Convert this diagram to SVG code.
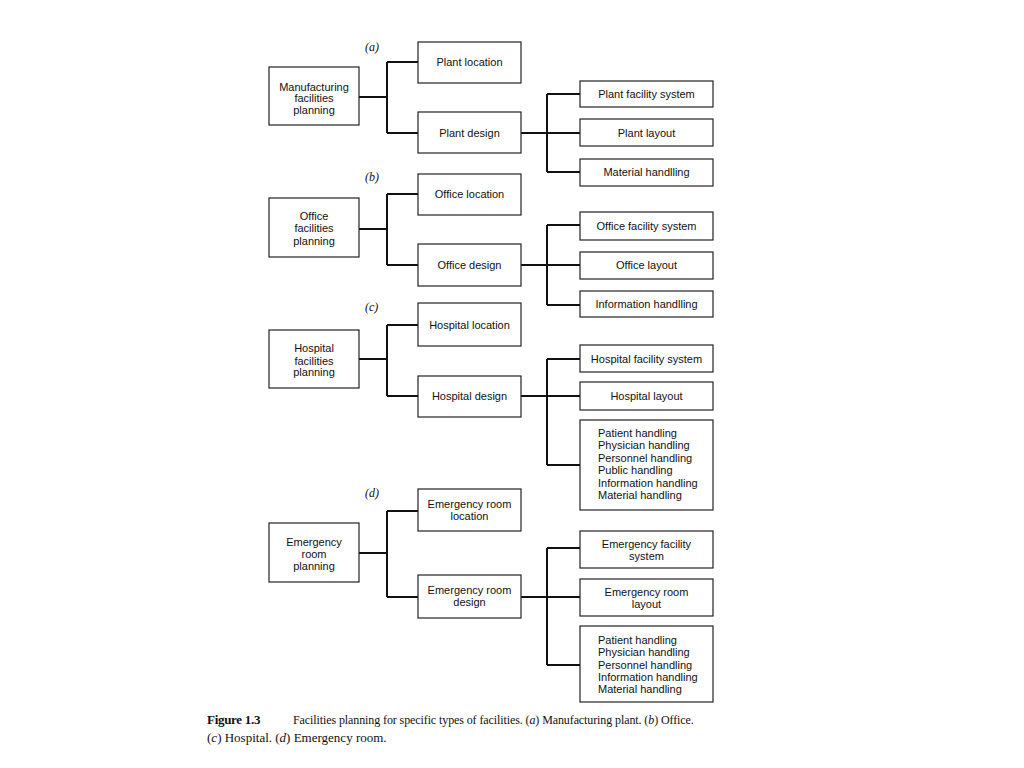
<svg xmlns="http://www.w3.org/2000/svg" width="1024" height="768" viewBox="0 0 1024 768">
<style>
.box{fill:#fff;stroke:#222;stroke-width:1.2}
.t{font-family:"Liberation Sans",Arial,sans-serif;font-size:11px;fill:#111;text-anchor:middle}
.tl{font-family:"Liberation Sans",Arial,sans-serif;font-size:11px;fill:#111;text-anchor:start}
.lab{font-family:"Liberation Serif","Times New Roman",serif;font-size:12px;font-style:italic;fill:#111}
.cap{font-family:"Liberation Serif","Times New Roman",serif;font-size:13px;fill:#111}
.cap1{font-family:"Liberation Serif","Times New Roman",serif;font-size:12px;letter-spacing:-0.1px;fill:#111}
.con{fill:none;stroke:#111;stroke-width:2}
</style>
<rect width="1024" height="768" fill="#fff"/>
<g id="connectors">
<path class="con" d="M359 97H387M387 62V133M387 62H418M387 133H418M521 133H580M547 94V172M547 94H580M547 172H580"/>
<path class="con" d="M359 229H387M387 194V265M387 194H418M387 265H418M521 265H580M547 225V305M547 225H580M547 305H580"/>
<path class="con" d="M359 359H387M387 325V396M387 325H418M387 396H418M521 396H580M547 359V465M547 359H580M547 465H580"/>
<path class="con" d="M359 553H387M387 511V597M387 511H418M387 597H418M521 597H580M547 548V665M547 548H580M547 665H580"/>
</g>
<text class="lab" x="365" y="51">(a)</text>
<text class="lab" x="365" y="181">(b)</text>
<text class="lab" x="365" y="311">(c)</text>
<text class="lab" x="365" y="497">(d)</text>
<g id="a-root"><rect class="box" x="269" y="67" width="90" height="58"/><text class="t" x="314" y="90.5">Manufacturing</text><text class="t" x="314" y="102">facilities</text><text class="t" x="314" y="113.5">planning</text></g>
<g id="a-loc"><rect class="box" x="418" y="42" width="103" height="41"/><text class="t" x="469.5" y="66">Plant location</text></g>
<g id="a-design"><rect class="box" x="418" y="112" width="103" height="41"/><text class="t" x="469.5" y="136.5">Plant design</text></g>
<g id="a-fs"><rect class="box" x="580" y="81" width="133" height="26"/><text class="t" x="646.5" y="97.5">Plant facility system</text></g>
<g id="a-layout"><rect class="box" x="580" y="119" width="133" height="27"/><text class="t" x="646.5" y="136.5">Plant layout</text></g>
<g id="a-mh"><rect class="box" x="580" y="159" width="133" height="27"/><text class="t" x="646.5" y="176">Material handlling</text></g>

<g id="b-root"><rect class="box" x="269" y="198" width="90" height="59"/><text class="t" x="314" y="219.5">Office</text><text class="t" x="314" y="232">facilities</text><text class="t" x="314" y="244.5">planning</text></g>
<g id="b-loc"><rect class="box" x="418" y="174" width="103" height="41"/><text class="t" x="469.5" y="198">Office location</text></g>
<g id="b-design"><rect class="box" x="418" y="244" width="103" height="42"/><text class="t" x="469.5" y="269">Office design</text></g>
<g id="b-fs"><rect class="box" x="580" y="212" width="133" height="28"/><text class="t" x="646.5" y="229.5">Office facility system</text></g>
<g id="b-layout"><rect class="box" x="580" y="252" width="133" height="27"/><text class="t" x="646.5" y="269">Office layout</text></g>
<g id="b-ih"><rect class="box" x="580" y="291" width="133" height="26"/><text class="t" x="646.5" y="308">Information handlling</text></g>

<g id="c-root"><rect class="box" x="269" y="330" width="90" height="58"/><text class="t" x="314" y="352">Hospital</text><text class="t" x="314" y="364.5">facilities</text><text class="t" x="314" y="376">planning</text></g>
<g id="c-loc"><rect class="box" x="418" y="303" width="103" height="43"/><text class="t" x="469.5" y="328.5">Hospital location</text></g>
<g id="c-design"><rect class="box" x="418" y="376" width="103" height="41"/><text class="t" x="469.5" y="400">Hospital design</text></g>
<g id="c-fs"><rect class="box" x="580" y="345" width="133" height="27"/><text class="t" x="646.5" y="362.5">Hospital facility system</text></g>
<g id="c-layout"><rect class="box" x="580" y="382" width="133" height="28"/><text class="t" x="646.5" y="400">Hospital layout</text></g>
<g id="c-h"><rect class="box" x="580" y="420" width="133" height="90"/><text class="tl" x="598" y="437">Patient handling</text><text class="tl" x="598" y="449.4">Physician handling</text><text class="tl" x="598" y="461.8">Personnel handling</text><text class="tl" x="598" y="474.2">Public handling</text><text class="tl" x="598" y="486.6">Information handling</text><text class="tl" x="598" y="499">Material handling</text></g>

<g id="d-root"><rect class="box" x="269" y="523" width="90" height="59"/><text class="t" x="314" y="545.5">Emergency</text><text class="t" x="314" y="558">room</text><text class="t" x="314" y="570">planning</text></g>
<g id="d-loc"><rect class="box" x="418" y="489" width="103" height="42"/><text class="t" x="469.5" y="507.5">Emergency room</text><text class="t" x="469.5" y="520">location</text></g>
<g id="d-design"><rect class="box" x="418" y="575" width="103" height="43"/><text class="t" x="469.5" y="594">Emergency room</text><text class="t" x="469.5" y="606">design</text></g>
<g id="d-fs"><rect class="box" x="580" y="531" width="133" height="37"/><text class="t" x="646.5" y="547.5">Emergency facility</text><text class="t" x="646.5" y="560">system</text></g>
<g id="d-layout"><rect class="box" x="580" y="579" width="133" height="37"/><text class="t" x="646.5" y="596">Emergency room</text><text class="t" x="646.5" y="608">layout</text></g>
<g id="d-h"><rect class="box" x="580" y="626" width="133" height="76"/><text class="tl" x="598" y="644">Patient handling</text><text class="tl" x="598" y="656">Physician handling</text><text class="tl" x="598" y="668.5">Personnel handling</text><text class="tl" x="598" y="681">Information handling</text><text class="tl" x="598" y="693">Material handling</text></g>

<text class="cap" x="207" y="724" font-weight="bold" letter-spacing="-0.3">Figure 1.3</text>
<text class="cap1" x="293" y="724">Facilities planning for specific types of facilities. (<tspan font-style="italic">a</tspan>) Manufacturing plant. (<tspan font-style="italic">b</tspan>) Office.</text>
<text class="cap" x="207" y="742">(<tspan font-style="italic">c</tspan>) Hospital. (<tspan font-style="italic">d</tspan>) Emergency room.</text>
</svg>
